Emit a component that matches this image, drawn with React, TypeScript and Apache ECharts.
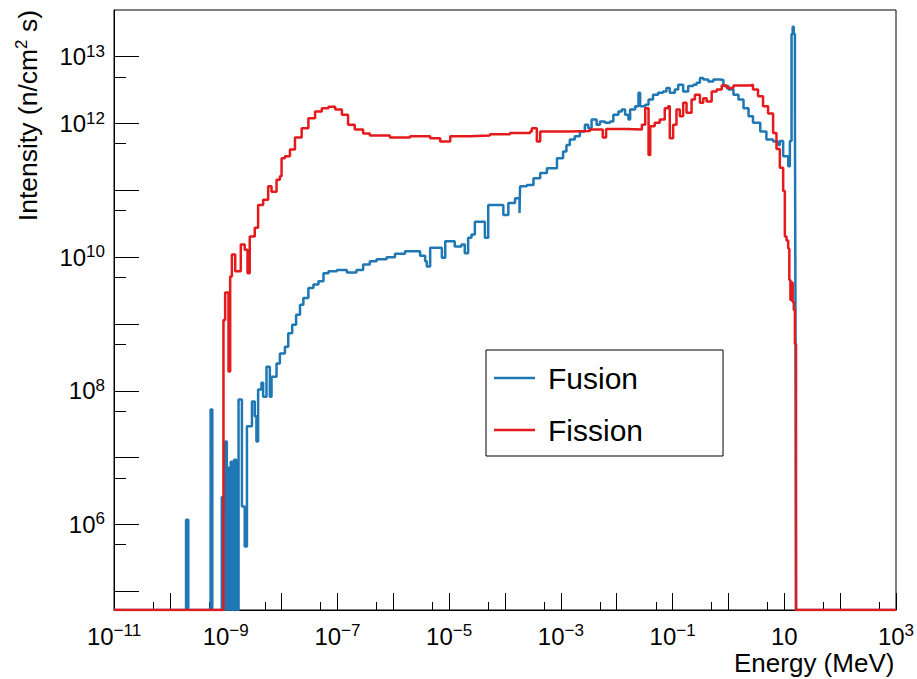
import React, { useEffect, useRef } from 'react';
import * as echarts from 'echarts';

const FONT = '"Liberation Sans", Arial, Helvetica, sans-serif';
const BLUE = '#1f77b4';
const RED = '#e41a1c';

// Axis ranges (real values)
const xRange = [1e-11, 1e3];
const yRange = [5.25e4, 5.0e13];

// Tick positions
const xMajorTicks = [1e-11, 1e-10, 1e-9, 1e-8, 1e-7, 1e-6, 1e-5, 1e-4, 1e-3, 1e-2, 1e-1, 1, 10, 100, 1000];
const xLabelTicks = [1e-11, 1e-9, 1e-7, 1e-5, 1e-3, 1e-1, 10, 1000];
const xMinorTicks = [5e-11, 5e-10, 5e-9, 5e-8, 5e-7, 5e-6, 5e-5, 5e-4, 5e-3, 5e-2, 5e-1, 5, 50, 500];
const yMajorTicks = [1e5, 1e6, 1e7, 1e8, 1e9, 1e10, 1e11, 1e12, 1e13];
const yLabelTicks = [1e6, 1e8, 1e10, 1e12, 1e13];
const yMinorTicks = [5e5, 5e6, 5e7, 5e8, 5e9, 5e10, 5e11, 5e12];

// Histogram bins: [log10(energy at bin start, MeV), log10(intensity)]; 4.72 = empty bin (axis floor)
const fusionLog: number[][] = [
  [-11, 4.72], [-9.71, 6.07], [-9.67, 4.72], [-9.27, 7.72], [-9.24, 4.72], [-9.07, 6.41], [-9.04, 4.72],
  [-9.01, 7.24], [-8.98, 4.72], [-8.96, 6.85], [-8.93, 4.72], [-8.91, 6.94], [-8.88, 4.72], [-8.85, 6.97],
  [-8.81, 4.72], [-8.77, 7.87], [-8.71, 6.27], [-8.66, 5.67], [-8.62, 7.47], [-8.53, 7.84], [-8.48, 7.62],
  [-8.45, 7.24], [-8.42, 8.02], [-8.36, 8.12], [-8.33, 7.91], [-8.27, 8.36], [-8.21, 7.91], [-8.18, 8.21],
  [-8.09, 8.41], [-8.03, 8.56], [-7.94, 8.66], [-7.88, 8.86], [-7.81, 8.99], [-7.74, 9.14], [-7.67, 9.29],
  [-7.61, 9.39], [-7.52, 9.54], [-7.43, 9.59], [-7.34, 9.64], [-7.25, 9.76], [-7.16, 9.79], [-7.01, 9.81],
  [-6.83, 9.77], [-6.66, 9.81], [-6.54, 9.89], [-6.42, 9.94], [-6.3, 9.97], [-6.12, 10.0], [-5.97, 10.05],
  [-5.79, 10.09], [-5.64, 10.09], [-5.52, 10.02], [-5.43, 9.94], [-5.4, 9.86], [-5.34, 10.14], [-5.19, 10.14],
  [-5.13, 9.99], [-5.07, 10.24], [-4.9, 10.16], [-4.78, 10.19], [-4.72, 10.06], [-4.66, 10.29], [-4.6, 10.34],
  [-4.54, 10.53], [-4.42, 10.53], [-4.36, 10.29], [-4.3, 10.78], [-4.12, 10.78], [-4.03, 10.63], [-3.94, 10.81],
  [-3.82, 10.88], [-3.74, 10.66], [-3.73, 11.06], [-3.61, 11.08], [-3.49, 11.18], [-3.37, 11.26], [-3.25, 11.33],
  [-3.07, 11.48], [-2.96, 11.58], [-2.9, 11.68], [-2.84, 11.76], [-2.75, 11.81], [-2.66, 11.88], [-2.57, 11.98],
  [-2.51, 11.93], [-2.45, 12.06], [-2.36, 11.98], [-2.3, 12.03], [-2.21, 12.01], [-2.12, 12.03], [-2.06, 12.13],
  [-1.97, 12.18], [-1.91, 12.21], [-1.85, 12.13], [-1.79, 12.06], [-1.76, 12.21], [-1.67, 12.26], [-1.61, 12.46],
  [-1.58, 12.26], [-1.49, 12.28], [-1.43, 12.36], [-1.35, 12.43], [-1.26, 12.46], [-1.17, 12.48], [-1.11, 12.53],
  [-1.05, 12.46], [-0.96, 12.51], [-0.9, 12.58], [-0.81, 12.48], [-0.72, 12.56], [-0.63, 12.58], [-0.57, 12.61],
  [-0.51, 12.68], [-0.45, 12.66], [-0.36, 12.63], [-0.27, 12.66], [-0.15, 12.65], [-0.09, 12.56], [0.0, 12.51],
  [0.09, 12.43], [0.18, 12.36], [0.27, 12.23], [0.36, 12.11], [0.44, 12.01], [0.57, 11.88], [0.68, 11.76],
  [0.8, 11.73], [0.89, 11.68], [0.92, 11.74], [0.98, 11.51], [1.07, 11.36], [1.1, 11.74], [1.13, 13.34],
  [1.15, 13.45], [1.17, 13.34], [1.19, 12.22], [1.2, 9.27], [1.21, 4.72], [3, 4.72],
];

const fissionLog: number[][] = [
  [-11, 4.72], [-9.04, 9.06], [-9.01, 9.47], [-8.95, 8.29], [-8.92, 9.71], [-8.89, 10.04], [-8.83, 9.79],
  [-8.73, 10.19], [-8.66, 10.11], [-8.61, 9.76], [-8.57, 10.31], [-8.48, 10.44], [-8.42, 10.78], [-8.33, 10.86],
  [-8.24, 11.06], [-8.18, 10.98], [-8.09, 11.16], [-8.03, 11.21], [-8.0, 11.48], [-7.94, 11.51], [-7.85, 11.61],
  [-7.76, 11.79], [-7.64, 11.93], [-7.52, 12.08], [-7.4, 12.18], [-7.28, 12.23], [-7.16, 12.25], [-7.04, 12.21],
  [-6.92, 12.13], [-6.81, 11.98], [-6.69, 11.91], [-6.54, 11.85], [-6.42, 11.82], [-6.06, 11.79], [-5.7, 11.81],
  [-5.34, 11.78], [-5.16, 11.73], [-4.98, 11.81], [-4.63, 11.82], [-4.27, 11.84], [-3.91, 11.86], [-3.55, 11.88],
  [-3.52, 11.93], [-3.43, 11.73], [-3.37, 11.88], [-3.19, 11.88], [-2.84, 11.89], [-2.48, 11.91], [-2.25, 11.79],
  [-2.19, 11.92], [-1.82, 11.91], [-1.55, 11.98], [-1.49, 12.23], [-1.43, 11.53], [-1.4, 11.96], [-1.32, 12.01],
  [-1.23, 12.06], [-1.14, 12.23], [-1.08, 12.26], [-1.05, 11.78], [-0.99, 11.98], [-0.93, 12.21], [-0.87, 12.11],
  [-0.81, 12.31], [-0.75, 12.16], [-0.66, 12.36], [-0.6, 12.43], [-0.51, 12.31], [-0.45, 12.38], [-0.39, 12.33],
  [-0.3, 12.48], [-0.21, 12.51], [-0.12, 12.57], [-0.03, 12.53], [0.09, 12.57], [0.24, 12.57], [0.39, 12.58],
  [0.44, 12.51], [0.53, 12.41], [0.62, 12.26], [0.71, 12.15], [0.8, 11.86], [0.86, 11.62], [0.92, 11.34],
  [0.98, 10.99], [1.01, 10.31], [1.04, 10.25], [1.07, 10.13], [1.09, 9.66], [1.11, 9.36], [1.13, 9.62],
  [1.15, 9.33], [1.17, 9.21], [1.19, 8.7], [1.21, 4.72], [3, 4.72],
];

const seriesNames = ['Fusion', 'Fission'];

const toData = (pts: number[][]) => pts.map(([e, v]) => [Math.pow(10, e), Math.pow(10, v)]);

const powLabel = (v: number) => {
  const e = Math.round(Math.log10(v));
  if (e === 1) return '{b|10}';
  const sup = e < 0 ? '\u2212' + String(-e) : String(e);
  return '{b|10}{s|' + sup + '}';
};

const labelRich = {
  b: { fontSize: 24, fontFamily: FONT, color: '#000', lineHeight: 28 },
  s: { fontSize: 17, fontFamily: FONT, color: '#000', lineHeight: 17, verticalAlign: 'top' },
};

export default function App() {
  const ref = useRef<HTMLDivElement>(null);
  useEffect(() => {
    const chart = echarts.init(ref.current!, null, { renderer: 'svg' });
    const tickLine = { color: '#000', width: 1 };
    const option: any = {
      animation: false,
      backgroundColor: '#fff',
      grid: {
        left: 114, right: 21, top: 10, bottom: 69,
        outerBoundsMode: 'none', containLabel: false,
        show: true, borderColor: '#000', borderWidth: 1, backgroundColor: 'transparent',
      },
      legend: {
        data: seriesNames,
        orient: 'vertical',
        left: 486, top: 350,
        icon: 'rect', itemWidth: 41, itemHeight: 2.5, itemGap: 22,
        padding: [13, 80, 11, 8],
        borderColor: '#000', borderWidth: 1, backgroundColor: '#fff',
        textStyle: { fontSize: 30, fontFamily: FONT, color: '#000', lineHeight: 30, padding: [0, 0, 0, 8] },
      },
      xAxis: [
        {
          type: 'log', logBase: 10, min: xRange[0], max: xRange[1], position: 'bottom',
          axisLine: { show: true, lineStyle: tickLine },
          axisTick: { show: true, inside: true, length: 17, customValues: xMajorTicks, lineStyle: tickLine },
          axisLabel: { customValues: xLabelTicks, formatter: powLabel, rich: labelRich, margin: 12 },
          splitLine: { show: false },
          name: 'Energy (MeV)', nameLocation: 'end', nameGap: -162, nameMoveOverlap: false,
          nameTextStyle: {
            fontSize: 26, fontFamily: FONT, color: '#000', align: 'left', verticalAlign: 'top',
            lineHeight: 26, padding: [40, 0, 0, 0],
          },
        },
        {
          type: 'log', logBase: 10, min: xRange[0], max: xRange[1], position: 'bottom',
          axisLine: { show: false },
          axisTick: { show: true, inside: true, length: 8, customValues: xMinorTicks, lineStyle: tickLine },
          axisLabel: { show: false },
          splitLine: { show: false },
        },
      ],
      yAxis: [
        {
          type: 'log', logBase: 10, min: yRange[0], max: yRange[1], position: 'left',
          axisLine: { show: true, lineStyle: tickLine },
          axisTick: { show: true, inside: true, length: 25, customValues: yMajorTicks, lineStyle: tickLine },
          axisLabel: { customValues: yLabelTicks, formatter: powLabel, rich: labelRich, margin: 9 },
          splitLine: { show: false },
          name: '{a|Intensity (n/cm}{s|2}{a| s)}', nameLocation: 'end', nameGap: 0, nameRotate: 90,
          nameMoveOverlap: false,
          nameTextStyle: {
            align: 'right', verticalAlign: 'bottom', padding: [0, 0, 72, 0],
            rich: {
              a: { fontSize: 26.5, fontFamily: FONT, color: '#000', lineHeight: 29 },
              s: { fontSize: 17, fontFamily: FONT, color: '#000', lineHeight: 17, verticalAlign: 'top' },
            },
          },
        },
        {
          type: 'log', logBase: 10, min: yRange[0], max: yRange[1], position: 'left',
          axisLine: { show: false },
          axisTick: { show: true, inside: true, length: 12, customValues: yMinorTicks, lineStyle: tickLine },
          axisLabel: { show: false },
          splitLine: { show: false },
        },
      ],
      series: [
        {
          name: seriesNames[0], type: 'line', step: 'end', xAxisIndex: 0, yAxisIndex: 0,
          symbol: 'none', showSymbol: false, data: toData(fusionLog),
          itemStyle: { color: BLUE }, lineStyle: { color: BLUE, width: 2.5 },
        },
        {
          name: seriesNames[1], type: 'line', step: 'end', xAxisIndex: 0, yAxisIndex: 0,
          symbol: 'none', showSymbol: false, data: toData(fissionLog),
          itemStyle: { color: RED }, lineStyle: { color: RED, width: 2.5 },
        },
      ],
    };
    chart.setOption(option);
    return () => chart.dispose();
  }, []);
  return (
    <div
      ref={ref}
      style={{ position: 'fixed', left: 0, top: 0, width: 917, height: 679, background: '#fff' }}
    />
  );
}
